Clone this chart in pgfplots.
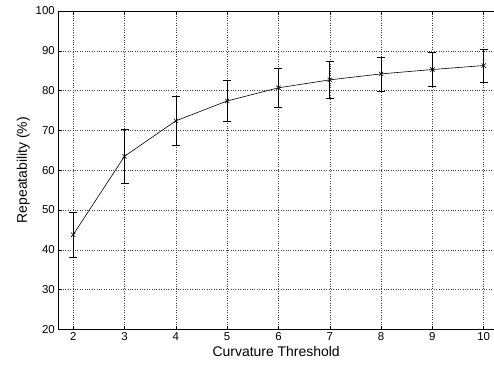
\documentclass[border=0pt]{standalone}
\usepackage{fontspec}
\setmainfont{Liberation Sans}
\usepackage{pgfplots}
\pgfplotsset{compat=1.18}
\usetikzlibrary{calc}
\pgfplotstableread{
x y e
2 43.8 5.6
3 63.5 6.7
4 72.4 6.1
5 77.4 5.2
6 80.7 5.0
7 82.7 4.65
8 84.2 4.25
9 85.3 4.3
10 86.3 4.1
}\datatable
\begin{document}
\begin{tikzpicture}
\begin{axis}[
  scale only axis,
  width=435.5bp, height=318.3bp,
  xmin=1.71, xmax=10.2, ymin=20, ymax=100,
  xtick={2,3,...,10}, ytick={20,30,...,100},
  axis x line=box, axis y line*=left,
  grid=major,
  major grid style={dotted, black!75, line width=0.5pt},
  axis line style={black, line width=0.6pt},
  tick align=inside,
  major tick length=3.5bp,
  tick style={black, line width=0.5pt},
  ticklabel style={font=\fontsize{11.5}{13}\selectfont},
  /pgf/number format/assume math mode=true,
  xlabel={Curvature Threshold},
  ylabel={Repeatability (\%)},
  every axis label/.append style={font=\fontsize{14}{16}\selectfont},
  xlabel style={yshift=2bp},
  ylabel style={yshift=-1bp},
]
\addplot[black, line width=0.6pt, mark=x, mark size=3bp,
  error bars/.cd, y dir=both, y explicit,
  error bar style={black, line width=0.6pt},
  error mark options={rotate=90, mark size=4bp, black, line width=0.6pt}]
  table[x=x, y=y, y error=e] {\datatable};
\end{axis}
\pgfresetboundingbox
\path[use as bounding box] ($(current axis.south west)+(-58.3bp,-35.7bp)$) rectangle ($(current axis.north east)+(0,11bp)$);
\end{tikzpicture}
\end{document}
